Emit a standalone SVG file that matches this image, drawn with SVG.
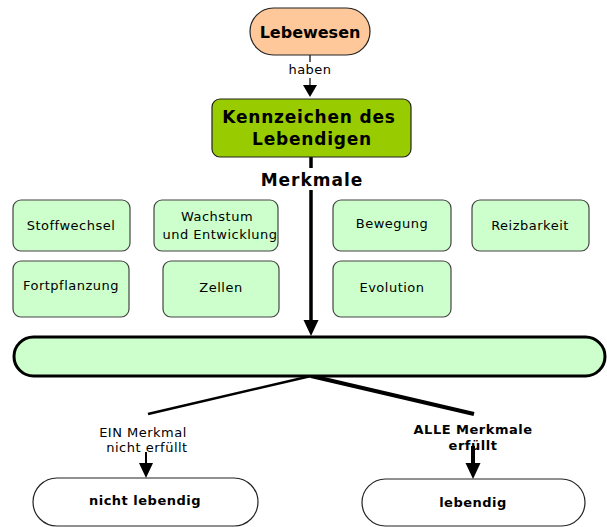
<svg xmlns="http://www.w3.org/2000/svg" width="607" height="527" viewBox="0 0 607 527">
<style>
text{font-family:"DejaVu Sans","Verdana",sans-serif;fill:#000;text-anchor:middle}
.m{font-size:13px;letter-spacing:0.5px}
.b{font-weight:bold}
.k{font-size:17px;font-weight:bold;letter-spacing:0.8px}
.box{fill:#CCFFCC;stroke:#444;stroke-width:1.2}
.ln{stroke:#000;fill:none}
</style>
<g id="connectors">
<line class="ln" x1="310" y1="55" x2="310" y2="62" stroke-width="1.2"/>
<line class="ln" x1="310" y1="78" x2="310" y2="86" stroke-width="1.2"/>
<path d="M303,85 L317,85 L310,97 Z" fill="#000"/>
<line class="ln" x1="311" y1="157" x2="311" y2="168" stroke-width="3.5"/>
<line class="ln" x1="311" y1="190" x2="311" y2="322" stroke-width="3.5"/>
<path d="M303.5,320 L318.5,320 L311,336 Z" fill="#000"/>
<line class="ln" x1="311" y1="376" x2="148" y2="414" stroke-width="2.5"/>
<line class="ln" x1="311" y1="376" x2="474" y2="414" stroke-width="4"/>
<line class="ln" x1="146" y1="452" x2="146" y2="465" stroke-width="2"/>
<path d="M139,463 L153,463 L146,478 Z" fill="#000"/>
<line class="ln" x1="473" y1="446" x2="473" y2="465" stroke-width="4"/>
<path d="M465.5,463 L480.5,463 L473,479 Z" fill="#000"/>
<text class="m" x="310" y="74">haben</text>
<text class="b" x="312" y="186" font-size="17" letter-spacing="1">Merkmale</text>
<text class="m" x="143" y="437">EIN Merkmal</text>
<text class="m" x="147" y="452">nicht erfüllt</text>
<text class="m b" x="473" y="434">ALLE Merkmale</text>
<text class="m b" x="473" y="450">erfüllt</text>
</g>
<g id="lebewesen">
<rect x="250" y="8" width="120" height="47" rx="23.5" fill="#FFC89B" stroke="#222" stroke-width="1.2"/>
<text class="b" x="310" y="38" font-size="16">Lebewesen</text>
</g>
<g id="kennzeichen">
<rect x="212" y="99" width="199" height="58" rx="8" fill="#99CC00" stroke="#222" stroke-width="1.2"/>
<text class="k" x="309" y="123">Kennzeichen des</text>
<text class="k" x="312" y="145">Lebendigen</text>
</g>
<g id="stoffwechsel">
<rect class="box" x="13" y="200" width="117" height="51" rx="8"/>
<text class="m" x="71" y="230">Stoffwechsel</text>
</g>
<g id="wachstum">
<rect class="box" x="154" y="200" width="124" height="51" rx="8"/>
<text class="m" x="217" y="221">Wachstum</text>
<text class="m" x="220" y="239">und Entwicklung</text>
</g>
<g id="bewegung">
<rect class="box" x="333" y="200" width="118" height="51" rx="8"/>
<text class="m" x="392" y="228">Bewegung</text>
</g>
<g id="reizbarkeit">
<rect class="box" x="472" y="200" width="117" height="51" rx="8"/>
<text class="m" x="530" y="230">Reizbarkeit</text>
</g>
<g id="fortpflanzung">
<rect class="box" x="13" y="261" width="116" height="56" rx="8"/>
<text class="m" x="71" y="290">Fortpflanzung</text>
</g>
<g id="zellen">
<rect class="box" x="163" y="261" width="116" height="56" rx="8"/>
<text class="m" x="221" y="292">Zellen</text>
</g>
<g id="evolution">
<rect class="box" x="333" y="261" width="118" height="56" rx="8"/>
<text class="m" x="392" y="292">Evolution</text>
</g>
<g id="bar">
<rect x="14" y="337" width="591" height="39" rx="19.5" fill="#CCFFCC" stroke="#000" stroke-width="3"/>
</g>
<g id="nicht-lebendig">
<rect x="33" y="478" width="225" height="48" rx="24" fill="#fff" stroke="#222" stroke-width="1.2"/>
<text class="m b" x="145" y="505">nicht lebendig</text>
</g>
<g id="lebendig">
<rect x="362" y="479" width="223" height="47" rx="23.5" fill="#fff" stroke="#222" stroke-width="1.2"/>
<text class="m b" x="473" y="507">lebendig</text>
</g>
</svg>
